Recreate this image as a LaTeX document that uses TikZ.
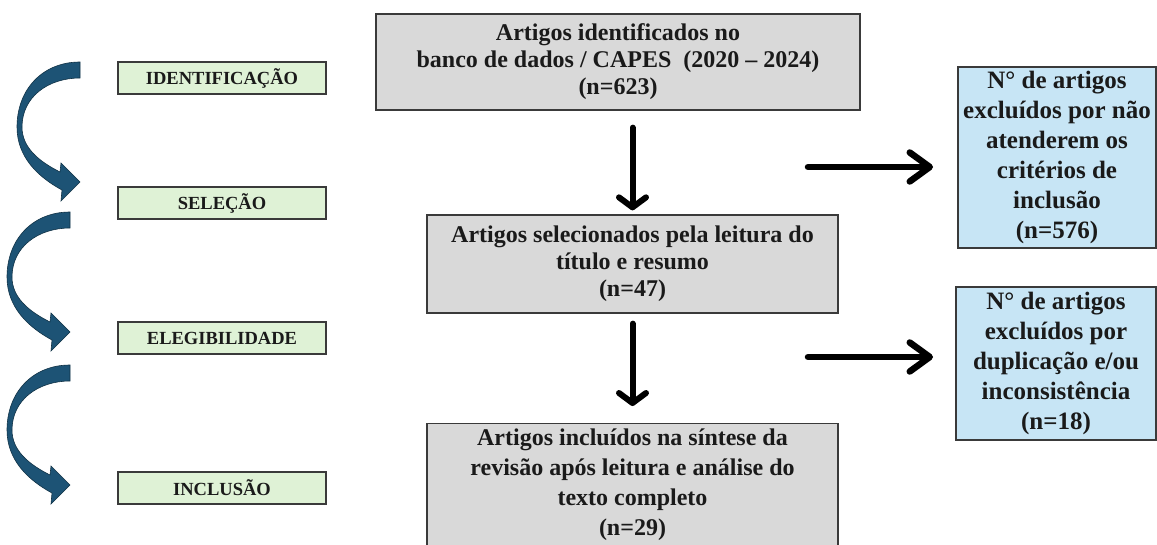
\documentclass[tikz,border=0pt]{standalone}
\usepackage{fontspec}
\setmainfont{Liberation Serif}
\usetikzlibrary{arrows.meta}
\definecolor{grayfill}{HTML}{D9D9D9}
\definecolor{greenfill}{HTML}{DFF2D6}
\definecolor{bluefill}{HTML}{C7E5F5}
\definecolor{arrowblue}{HTML}{1D5375}
\definecolor{edgecol}{HTML}{3A3A3A}
\definecolor{txt}{HTML}{1A1A1A}
\tikzset{
  stagebox/.style={draw=edgecol, line width=1.3pt, fill=greenfill, inner sep=0pt,
    minimum width=208pt, minimum height=32pt, text=txt,
    font=\fontsize{18.5}{21}\selectfont\bfseries},
  graybox/.style={draw=edgecol, line width=1.3pt, fill=grayfill, inner sep=0pt,
    align=center, text=txt, font=\fontsize{24}{27}\selectfont\bfseries},
  bluebox/.style={draw=edgecol, line width=1.3pt, fill=bluefill, inner sep=0pt,
    align=center, text=txt, font=\fontsize{25}{30}\selectfont\bfseries},
  varrow/.style={line width=6pt, line cap=round, black,
    -{Straight Barb[length=10pt,width=27pt,round]}},
  harrow/.style={line width=6.5pt, line cap=round, black,
    -{Straight Barb[length=20pt,width=29pt,round]}},
  curv/.pic={
    \fill[arrowblue, draw=arrowblue!60!black, line width=0.6pt]
      (0,0) .. controls (-38,0) and (-63,28) .. (-63,65)
      .. controls (-63,95) and (-42,115) .. (-18,128)
      -- (-19,139) -- (0,120) -- (-19,101) -- (-20,110)
      .. controls (-42,99) and (-58,85) .. (-58,65)
      .. controls (-58,35) and (-32,16) .. (0,16) -- cycle;
  }
}
\begin{document}
\begin{tikzpicture}[x=1pt,y=-1pt]
\useasboundingbox (0,0) rectangle (1157,545);
\fill[white] (0,0) rectangle (1157,545);

% stage labels
\node[stagebox] (ident) at (222,78) {IDENTIFICAÇÃO};
\node[stagebox] (sel)   at (222,203) {SELEÇÃO};
\node[stagebox] (eleg)  at (222,338) {ELEGIBILIDADE};
\node[stagebox] (incl)  at (222,488) {INCLUSÃO};

% curved arrows
\pic at (80,62) {curv};
\pic at (70,212) {curv};
\pic at (70,365) {curv};

% main boxes
\node[graybox, minimum width=484pt, minimum height=96pt] (top) at (618,62)
  {Artigos identificados no\\banco de dados / CAPES\ \ (2020 – 2024)\\(n=623)};
\node[graybox, minimum width=411pt, minimum height=98pt] (mid) at (632.5,264)
  {Artigos selecionados pela leitura do\\título e resumo\\(n=47)};
\node[graybox, minimum width=411pt, inner ysep=5pt, anchor=north,
  font=\fontsize{24}{30}\selectfont\bfseries] (fin) at (632.5,423)
  {Artigos incluídos na síntese da\\revisão após leitura e análise do\\texto completo\\(n=29)\\[-10pt]\mbox{}};

% exclusion boxes
\node[bluebox, minimum width=198pt, minimum height=181pt] (exc1) at (1057,157.5)
  {N° de artigos\\excluídos por não\\atenderem os\\critérios de\\inclusão\\(n=576)};
\node[bluebox, minimum width=200pt, minimum height=153pt] (exc2) at (1056,363.5)
  {N° de artigos\\excluídos por\\duplicação e/ou\\inconsistência\\(n=18)};

% vertical arrows
\draw[varrow, shorten <=17pt, shorten >=4pt] (top.south -| mid.north) -- (mid.north);
\draw[varrow, shorten <=10pt, shorten >=17pt] (mid.south) -- (fin.north);

% horizontal arrows
\coordinate (h1a) at (808,167);
\coordinate (h1b) at (933,167);
\coordinate (h2a) at (808,357);
\coordinate (h2b) at (933,357);
\draw[harrow] (h1a) -- (h1b);
\draw[harrow] (h2a) -- (h2b);
\end{tikzpicture}
\end{document}
